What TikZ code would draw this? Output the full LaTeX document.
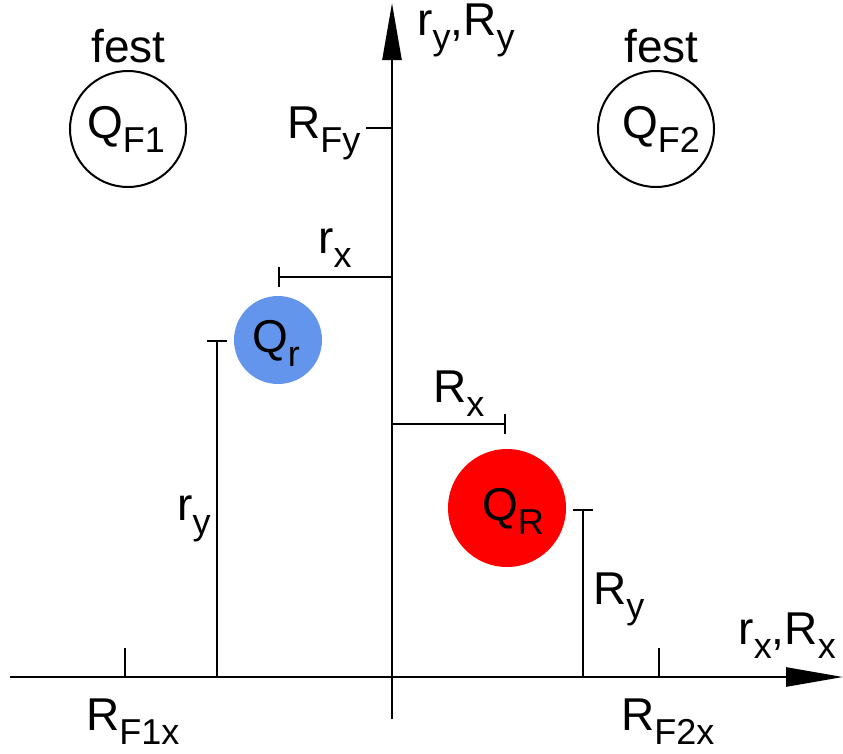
\documentclass[tikz,border=0pt]{standalone}
\usepackage{fontspec}
\setmainfont{Liberation Sans}
\usetikzlibrary{arrows.meta}
\definecolor{qrblue}{RGB}{100,149,237}
\newcommand\sbs[1]{\raisebox{-14pt}{\fontsize{36}{40}\selectfont #1}}
\begin{document}
\begin{tikzpicture}[x=1pt,y=-1pt,
  lbl/.style={inner sep=0pt,anchor=base west,font=\fontsize{46}{55}\selectfont},
  fixq/.style={circle,draw,line width=2pt,minimum size=116pt,inner sep=0pt},
  axis/.style={line width=2.6pt,-{Triangle[length=57pt,width=19pt]}},
  dim/.style={line width=2.4pt,-{Bar[width=20pt,line width=2.4pt]}},
  tick/.style={line width=2.4pt}]
\useasboundingbox (0,0) rectangle (843,753);
% axes
\coordinate (xs) at (10,677);
\coordinate (xe) at (843,677);
\coordinate (ys) at (392,719);
\coordinate (ye) at (392,3);
\draw[axis] (xs) -- (xe);
\draw[axis] (ys) -- (ye);
\node[lbl,anchor=base east] (lx) at (836,644) {r\sbs{x},R\sbs{x}};
\node[lbl] (ly) at (417,35) {r\sbs{y},R\sbs{y}};
% fixed charges
\node[fixq] (qf1) at (128,129) {};
\node[fixq] (qf2) at (656,129) {};
\node[lbl,anchor=base] (fest1) at (128.5,62) {fest};
\node[lbl,anchor=base] (fest2) at (661.5,62) {fest};
\node[lbl] (tqf1) at (87,138) {Q\sbs{F1}};
\node[lbl] (tqf2) at (622,138) {Q\sbs{F2}};
% R_Fy tick
\coordinate (rfy0) at (366,128);
\coordinate (rfy1) at (392,128);
\draw[tick] (rfy0) -- (rfy1);
\node[lbl] (trfy) at (287,138) {R\sbs{Fy}};
% ticks on x axis
\coordinate (f1a) at (125,648);
\coordinate (f1b) at (125,677);
\coordinate (f2a) at (659,648);
\coordinate (f2b) at (659,677);
\draw[tick] (f1a) -- (f1b);
\draw[tick] (f2a) -- (f2b);
\node[lbl] (trf1x) at (86,730) {R\sbs{F1x}};
\node[lbl] (trf2x) at (621,730) {R\sbs{F2x}};
% moving charges
\node[circle,fill=qrblue,minimum size=88pt,inner sep=0pt] (qr) at (278,340) {};
\node[lbl] (tqr) at (252,352) {Q\sbs{r}};
\node[circle,fill=red,minimum size=118pt,inner sep=0pt] (qR) at (507,508) {};
\node[lbl] (tqR) at (482,520) {Q\sbs{R}};
% dimension lines
\coordinate (rx0) at (392,277);
\coordinate (rx1) at (278,277);
\draw[dim] (rx0) -- (rx1);
\node[lbl] (trx) at (318,253) {r\sbs{x}};
\coordinate (Rx0) at (392,424);
\coordinate (Rx1) at (506,424);
\draw[dim] (Rx0) -- (Rx1);
\node[lbl] (tRx) at (433,402) {R\sbs{x}};
\coordinate (ry0) at (217,677);
\coordinate (ry1) at (217,340);
\draw[dim] (ry0) -- (ry1);
\node[lbl] (try) at (177,520) {r\sbs{y}};
\coordinate (Ry0) at (583,677);
\coordinate (Ry1) at (583,509);
\draw[dim] (Ry0) -- (Ry1);
\node[lbl] (tRy) at (593,604) {R\sbs{y}};
\end{tikzpicture}
\end{document}
